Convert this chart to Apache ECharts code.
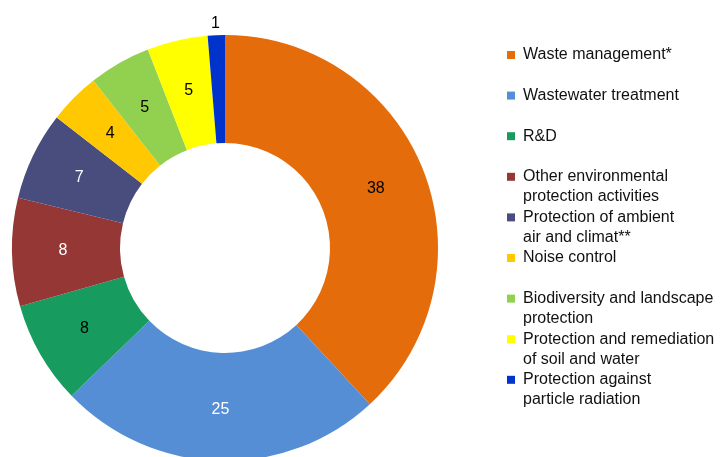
<!DOCTYPE html>
<html><head><meta charset="utf-8">
<script src="https://cdn.jsdelivr.net/npm/echarts@6/dist/echarts.min.js"></script>
<style>html,body{margin:0;padding:0;background:#fff}#c{width:721px;height:457px}</style>
</head><body><div id="c"></div>
<script>
const categories = [
  "Waste management*",
  "Wastewater treatment",
  "R&D",
  "Other environmental\nprotection activities",
  "Protection of ambient\nair and climat**",
  "Noise control",
  "Biodiversity and landscape\nprotection",
  "Protection and remediation\nof soil and water",
  "Protection against\nparticle radiation"
];
const values = [38.1, 24.7, 7.8, 8.2, 6.7, 3.9, 4.7, 4.6, 1.3];
const colors = ["#E46C0A", "#558ED5", "#179B5E", "#953735", "#494D7E", "#FFC800", "#92D050", "#FFFF00", "#0033CC"];
const labelColors = ["#000", "#fff", "#000", "#fff", "#fff", "#000", "#000", "#000", "#000"];

const chart = echarts.init(document.getElementById('c'));
const data = categories.map((n, i) => {
  const d = {
    name: n, value: values[i],
    itemStyle: { color: colors[i] },
    label: { color: labelColors[i] }
  };
  if (i === categories.length - 1) {
    d.label = { color: '#000', position: 'outside', distanceToLabelLine: 0 };
    d.labelLine = { show: false, length: 12, length2: -4 };
  }
  return d;
});
chart.setOption({
  animation: false,
  legend: {
    orient: 'vertical',
    left: 507,
    top: 25,
    padding: 0,
    itemGap: -19.4,
    itemWidth: 8,
    itemHeight: 8,
    icon: 'rect',
    data: categories,
    formatter: function (name) {
      return name.indexOf('\n') >= 0 ? '\n' + name : '\n' + name + '\n';
    },
    textStyle: { fontFamily: 'Liberation Sans, Arial, sans-serif', fontSize: 16, lineHeight: 20, color: '#111', padding: [0, 0, 0, 3] }
  },
  series: [{
    type: 'pie',
    center: [225, 248],
    radius: [105, 213],
    startAngle: 90,
    clockwise: true,
    avoidLabelOverlap: false,
    label: {
      show: true,
      position: 'inside',
      formatter: function (p) { return String(Math.round(p.value)); },
      fontFamily: 'Liberation Sans, Arial, sans-serif',
      fontSize: 16
    },
    labelLine: { show: false },
    itemStyle: { borderWidth: 0 },
    emphasis: { disabled: true },
    data: data
  }]
});
</script></body></html>
